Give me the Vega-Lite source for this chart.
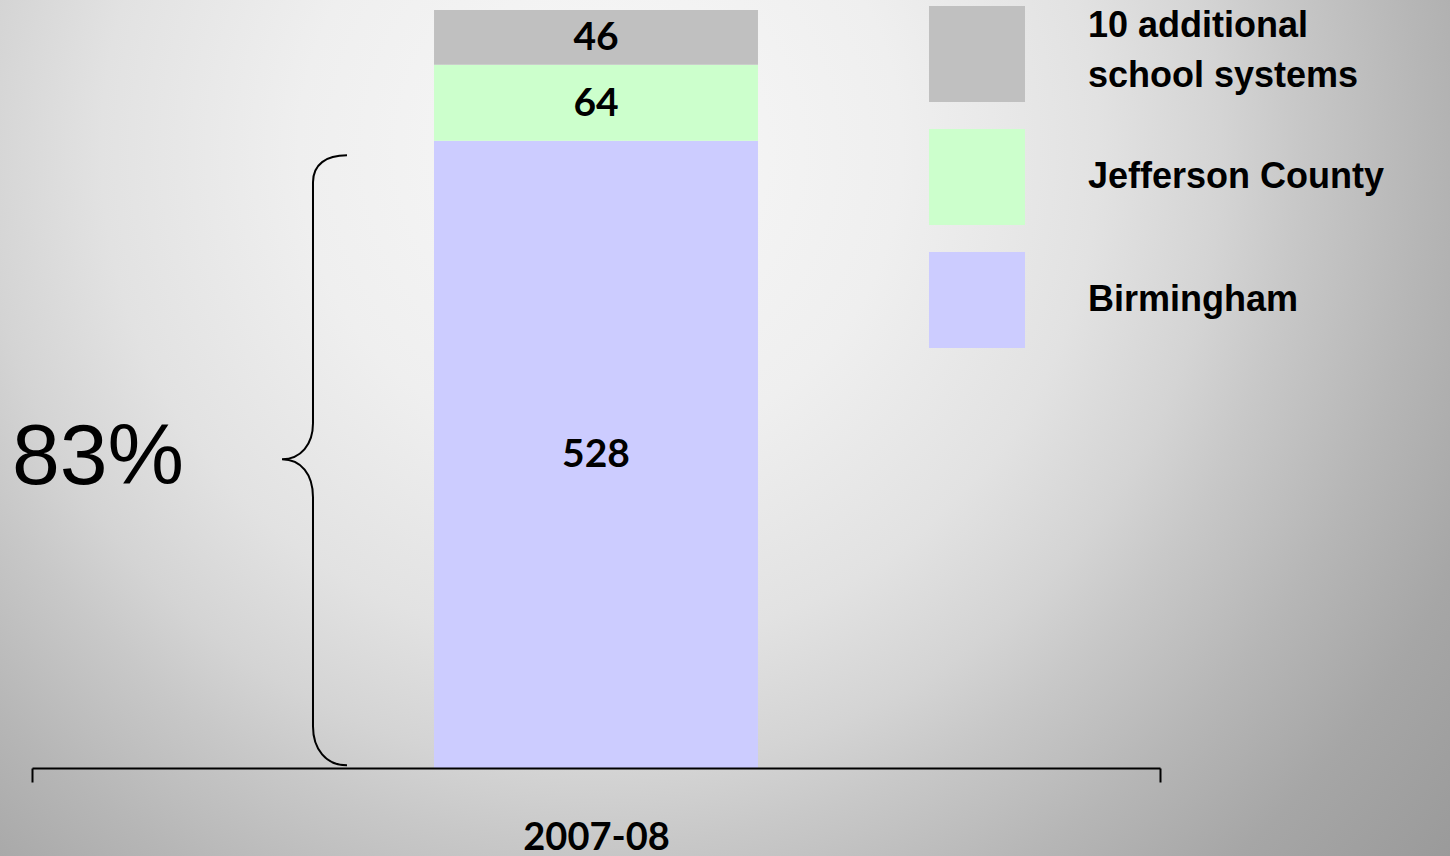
{
  "$schema": "https://vega.github.io/schema/vega-lite/v6.json",
  "width": 1450,
  "height": 856,
  "autosize": {"type": "none"},
  "padding": 0,
  "background": "#dcdcdc",
  "config": {"view": {"stroke": null}},
  "datasets": {
    "enrollment": [
      {"year": "2007-08", "group": "Birmingham", "value": 528, "rank": 1},
      {"year": "2007-08", "group": "Jefferson County", "value": 64, "rank": 2},
      {"year": "2007-08", "group": "10 additional school systems", "value": 46, "rank": 3}
    ]
  },
  "layer": [
    {
      "data": {"values": [{}]},
      "mark": {
        "type": "rect",
        "stroke": null,
        "fill": {
          "gradient": "radial",
          "x1": 0.414, "y1": 0.308, "r1": 0,
          "x2": 0.414, "y2": 0.308, "r2": 0.8,
          "stops": [
            {"offset": 0, "color": "#f8f8f8"},
            {"offset": 0.26, "color": "#efefef"},
            {"offset": 0.43, "color": "#e2e2e2"},
            {"offset": 0.535, "color": "#d4d4d4"},
            {"offset": 0.6, "color": "#c8c8c8"},
            {"offset": 0.71, "color": "#b6b6b6"},
            {"offset": 0.82, "color": "#a6a6a6"},
            {"offset": 1, "color": "#969696"}
          ]
        }
      },
      "encoding": {}
    },
    {
      "data": {"name": "enrollment"},
      "transform": [
        {"stack": "value", "groupby": ["year"], "sort": [{"field": "rank", "order": "ascending"}], "as": ["v0", "v1"]}
      ],
      "mark": {"type": "bar", "width": {"band": 0.2872}},
      "encoding": {
        "x": {
          "field": "year",
          "type": "nominal",
          "title": null,
          "scale": {"paddingInner": 0, "paddingOuter": 0, "range": [32, 1160]},
          "axis": {
            "title": null,
            "offset": -88,
            "zindex": 1,
            "grid": false,
            "domainColor": "#000000",
            "domainWidth": 2,
            "ticks": true,
            "tickBand": "extent",
            "tickColor": "#000000",
            "tickWidth": 2,
            "tickSize": 14,
            "labelAngle": 0,
            "labelFont": "Lato",
            "labelFontSize": 38,
            "labelFontWeight": "bold",
            "labelColor": "#000000",
            "labelPadding": 37
          }
        },
        "y": {
          "field": "v0",
          "type": "quantitative",
          "scale": {"domain": [0, 638], "nice": false, "zero": true, "range": [768, 10]},
          "axis": null
        },
        "y2": {"field": "v1"},
        "color": {
          "field": "group",
          "type": "nominal",
          "scale": {
            "domain": ["10 additional school systems", "Jefferson County", "Birmingham"],
            "range": ["#c0c0c0", "#ccffcc", "#ccccff"]
          },
          "legend": {
            "title": null,
            "orient": "none",
            "legendX": 929,
            "legendY": 6,
            "padding": 0,
            "symbolType": "square",
            "symbolSize": 9216,
            "symbolStrokeWidth": 0,
            "symbolOpacity": 1,
            "labelFont": "Liberation Sans",
            "labelFontSize": 36,
            "labelFontWeight": "bold",
            "labelColor": "#000000",
            "labelOffset": 63,
            "labelLimit": 600,
            "rowPadding": 27,
            "labelExpr": "datum.label == '10 additional school systems' ? ['10 additional', 'school systems'] : datum.label",
            "encode": {
              "labels": {
                "update": {
                  "lineHeight": {"value": 50},
                  "dy": {"signal": "datum.label == '10 additional school systems' ? -28 : 0"}
                }
              }
            }
          }
        }
      }
    },
    {
      "data": {"name": "enrollment"},
      "transform": [
        {"stack": "value", "groupby": ["year"], "sort": [{"field": "rank", "order": "ascending"}], "as": ["v0", "v1"]},
        {"fold": ["v0", "v1"], "as": ["edge", "pos"]}
      ],
      "mark": {"type": "text", "font": "Lato", "fontSize": 39, "fontWeight": "bold", "color": "#000000", "align": "center", "baseline": "middle", "dy": 1},
      "encoding": {
        "x": {"field": "year", "type": "nominal"},
        "y": {"field": "pos", "type": "quantitative", "aggregate": "mean"},
        "detail": {"field": "group", "type": "nominal"},
        "text": {"field": "value", "type": "quantitative", "aggregate": "max"}
      }
    },
    {
      "data": {"name": "enrollment"},
      "transform": [
        {"stack": "value", "groupby": ["year"], "sort": [{"field": "rank", "order": "ascending"}], "as": ["v0", "v1"]},
        {"filter": "datum.group == 'Birmingham'"},
        {"fold": ["v0", "v1"], "as": ["edge", "pos"]}
      ],
      "mark": {
        "type": "point",
        "shape": "M-0.8164,-0.9803C-0.8852,-0.9803,-0.9279,-0.9508,-0.9279,-0.8918L-0.9279,-0.1016C-0.9279,-0.0328,-0.9672,0.0164,-1.0295,0.0164C-0.9672,0.0164,-0.9279,0.0656,-0.9279,0.141L-0.9279,0.8918C-0.9279,0.9672,-0.8852,1.0197,-0.8164,1.0197",
        "size": 372100,
        "filled": false,
        "stroke": "#000000",
        "strokeWidth": 2,
        "opacity": 1
      },
      "encoding": {
        "x": {"field": "year", "type": "nominal"},
        "y": {"field": "pos", "type": "quantitative", "aggregate": "mean"}
      }
    },
    {
      "data": {"name": "enrollment"},
      "transform": [
        {"stack": "value", "groupby": ["year"], "sort": [{"field": "rank", "order": "ascending"}], "as": ["v0", "v1"]},
        {"filter": "datum.group == 'Birmingham'"},
        {"fold": ["v0", "v1"], "as": ["edge", "pos"]}
      ],
      "mark": {"type": "text", "text": "83%", "font": "Liberation Sans", "fontSize": 86, "color": "#000000", "align": "center", "baseline": "middle", "dx": -498, "dy": 4},
      "encoding": {
        "x": {"field": "year", "type": "nominal"},
        "y": {"field": "pos", "type": "quantitative", "aggregate": "mean"}
      }
    }
  ]
}
